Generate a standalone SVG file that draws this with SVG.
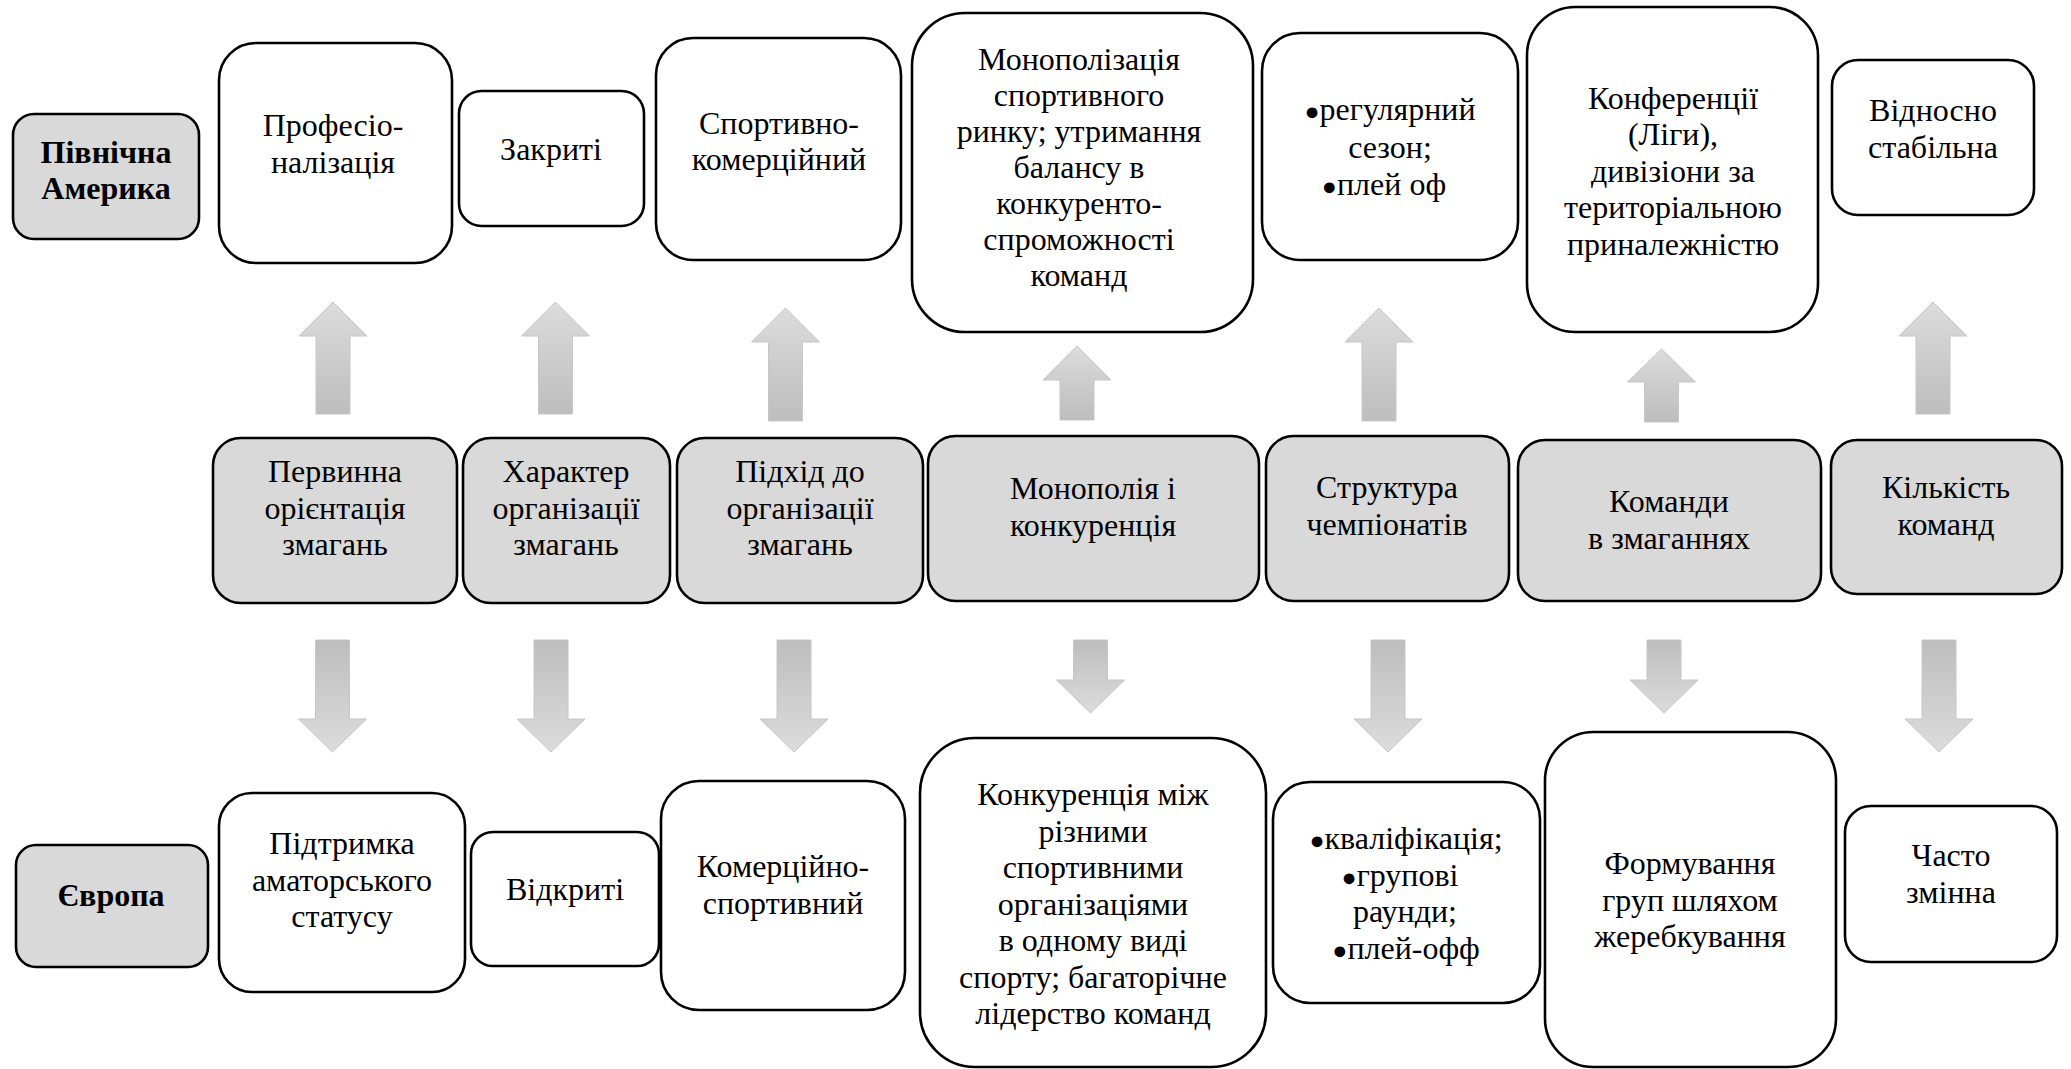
<svg xmlns="http://www.w3.org/2000/svg" width="2071" height="1069" viewBox="0 0 2071 1069">
<defs>
<linearGradient id="gUp" x1="0" y1="0" x2="0" y2="1"><stop offset="0" stop-color="#dcdcdc"/><stop offset="1" stop-color="#bdbdbd"/></linearGradient>
<linearGradient id="gDown" x1="0" y1="0" x2="0" y2="1"><stop offset="0" stop-color="#bdbdbd"/><stop offset="1" stop-color="#dcdcdc"/></linearGradient>
</defs>
<style>
.box{fill:#ffffff;stroke:#000000;stroke-width:2.6}
.gray{fill:#d9d9d9;stroke:#000000;stroke-width:2.6}
text{font-family:'Liberation Serif','Times New Roman',serif;font-size:32px;fill:#000000;text-anchor:middle}
.b{font-weight:bold}
.bul{font-size:25px}
.up{fill:url(#gUp);stroke:#c6c6c6;stroke-width:1}
.down{fill:url(#gDown);stroke:#c6c6c6;stroke-width:1}
</style>
<rect width="2071" height="1069" fill="#ffffff"/>

<g id="connectors">
<path class="up" d="M333,302 L367,336 L350,336 L350,414 L316,414 L316,336 L299,336 Z"/>
<path class="up" d="M555.5,302 L589.5,336 L572.5,336 L572.5,414 L538.5,414 L538.5,336 L521.5,336 Z"/>
<path class="up" d="M785.5,308 L819.5,342 L802.5,342 L802.5,421 L768.5,421 L768.5,342 L751.5,342 Z"/>
<path class="up" d="M1077,346 L1111,380 L1094,380 L1094,420 L1060,420 L1060,380 L1043,380 Z"/>
<path class="up" d="M1379,308 L1413,342 L1396,342 L1396,421 L1362,421 L1362,342 L1345,342 Z"/>
<path class="up" d="M1661.5,349 L1695.5,382 L1678.5,382 L1678.5,422 L1644.5,422 L1644.5,382 L1627.5,382 Z"/>
<path class="up" d="M1933,302 L1967,336 L1950,336 L1950,414 L1916,414 L1916,336 L1899,336 Z"/>
<path class="down" d="M315.5,640 L349.5,640 L349.5,719 L366.5,719 L332.5,752 L298.5,719 L315.5,719 Z"/>
<path class="down" d="M534,640 L568,640 L568,719 L585,719 L551,752 L517,719 L534,719 Z"/>
<path class="down" d="M777,640 L811,640 L811,719 L828,719 L794,752 L760,719 L777,719 Z"/>
<path class="down" d="M1073.5,640 L1107.5,640 L1107.5,680 L1124.5,680 L1090.5,713 L1056.5,680 L1073.5,680 Z"/>
<path class="down" d="M1371,640 L1405,640 L1405,719 L1422,719 L1388,752 L1354,719 L1371,719 Z"/>
<path class="down" d="M1647,640 L1681,640 L1681,680 L1698,680 L1664,713 L1630,680 L1647,680 Z"/>
<path class="down" d="M1922,640 L1956,640 L1956,719 L1973,719 L1939,752 L1905,719 L1922,719 Z"/>
</g>

<g id="na-label">
<rect class="gray" x="13" y="114" width="186" height="125" rx="21"/>
<text class="b" x="106" y="163">Північна</text>
<text class="b" x="106" y="199">Америка</text>
</g>
<g id="na-1">
<rect class="box" x="219" y="43" width="233" height="220" rx="37"/>
<text x="333" y="136">Професіо-</text>
<text x="333" y="172.5">налізація</text>
</g>
<g id="na-2">
<rect class="box" x="459" y="91" width="185" height="135" rx="22.5"/>
<text x="551" y="160">Закриті</text>
</g>
<g id="na-3">
<rect class="box" x="656" y="38" width="245" height="222" rx="37"/>
<text x="779" y="133.5">Спортивно-</text>
<text x="779" y="170">комерційний</text>
</g>
<g id="na-4">
<rect class="box" x="912" y="13" width="341" height="319" rx="53"/>
<text x="1079" y="70">Монополізація</text>
<text x="1079" y="106">спортивного</text>
<text x="1079" y="142">ринку; утримання</text>
<text x="1079" y="178">балансу в</text>
<text x="1079" y="214">конкуренто-</text>
<text x="1079" y="250">спроможності</text>
<text x="1079" y="286">команд</text>
</g>
<g id="na-5">
<rect class="box" x="1262" y="33" width="256" height="227" rx="38"/>
<text x="1390" y="120"><tspan class="bul">●</tspan><tspan>регулярний</tspan></text>
<text x="1390" y="157.5">сезон;</text>
<text x="1384" y="195"><tspan class="bul">●</tspan><tspan>плей оф</tspan></text>
</g>
<g id="na-6">
<rect class="box" x="1527" y="7" width="291" height="325" rx="48.5"/>
<text x="1673" y="109">Конференції</text>
<text x="1673" y="145">(Ліги),</text>
<text x="1673" y="181.5">дивізіони за</text>
<text x="1673" y="218">територіальною</text>
<text x="1673" y="254.5">приналежністю</text>
</g>
<g id="na-7">
<rect class="box" x="1832" y="60" width="202" height="155" rx="26"/>
<text x="1933" y="121">Відносно</text>
<text x="1933" y="157.5">стабільна</text>
</g>

<g id="c-1">
<rect class="gray" x="213" y="438" width="244" height="165" rx="27.5"/>
<text x="335" y="482">Первинна</text>
<text x="335" y="518.5">орієнтація</text>
<text x="335" y="555">змагань</text>
</g>
<g id="c-2">
<rect class="gray" x="463" y="438" width="207" height="165" rx="27.5"/>
<text x="566" y="482">Характер</text>
<text x="566" y="518.5">організації</text>
<text x="566" y="555">змагань</text>
</g>
<g id="c-3">
<rect class="gray" x="677" y="438" width="246" height="165" rx="27.5"/>
<text x="800" y="482">Підхід до</text>
<text x="800" y="518.5">організації</text>
<text x="800" y="555">змагань</text>
</g>
<g id="c-4">
<rect class="gray" x="928" y="436" width="331" height="165" rx="27.5"/>
<text x="1093" y="499">Монополія і</text>
<text x="1093" y="535.5">конкуренція</text>
</g>
<g id="c-5">
<rect class="gray" x="1266" y="436" width="243" height="165" rx="27.5"/>
<text x="1387" y="498">Структура</text>
<text x="1387" y="534.5">чемпіонатів</text>
</g>
<g id="c-6">
<rect class="gray" x="1518" y="440" width="303" height="161" rx="27"/>
<text x="1669" y="512">Команди</text>
<text x="1669" y="548.5">в змаганнях</text>
</g>
<g id="c-7">
<rect class="gray" x="1831" y="440" width="231" height="154" rx="26"/>
<text x="1946" y="498">Кількість</text>
<text x="1946" y="534.5">команд</text>
</g>

<g id="eu-label">
<rect class="gray" x="16" y="845" width="192" height="122" rx="20"/>
<text class="b" x="111" y="906">Європа</text>
</g>
<g id="eu-1">
<rect class="box" x="219" y="793" width="246" height="199" rx="33"/>
<text x="342" y="854">Підтримка</text>
<text x="342" y="890.5">аматорського</text>
<text x="342" y="927">статусу</text>
</g>
<g id="eu-2">
<rect class="box" x="471" y="832" width="188" height="134" rx="22"/>
<text x="565" y="900">Відкриті</text>
</g>
<g id="eu-3">
<rect class="box" x="661" y="781" width="244" height="229" rx="38"/>
<text x="783" y="877">Комерційно-</text>
<text x="783" y="914">спортивний</text>
</g>
<g id="eu-4">
<rect class="box" x="920" y="738" width="346" height="329" rx="55"/>
<text x="1093" y="805">Конкуренція між</text>
<text x="1093" y="841.5">різними</text>
<text x="1093" y="878">спортивними</text>
<text x="1093" y="914.5">організаціями</text>
<text x="1093" y="951">в одному виді</text>
<text x="1093" y="987.5">спорту; багаторічне</text>
<text x="1093" y="1024">лідерство команд</text>
</g>
<g id="eu-5">
<rect class="box" x="1273" y="782" width="267" height="221" rx="37"/>
<text x="1406" y="849"><tspan class="bul">●</tspan><tspan>кваліфікація;</tspan></text>
<text x="1400" y="885.5"><tspan class="bul">●</tspan><tspan>групові</tspan></text>
<text x="1405" y="922">раунди;</text>
<text x="1406" y="958.5"><tspan class="bul">●</tspan><tspan>плей-офф</tspan></text>
</g>
<g id="eu-6">
<rect class="box" x="1545" y="732" width="291" height="335" rx="48.5"/>
<text x="1690" y="874">Формування</text>
<text x="1690" y="910.5">груп шляхом</text>
<text x="1690" y="947">жеребкування</text>
</g>
<g id="eu-7">
<rect class="box" x="1845" y="806" width="212" height="156" rx="26"/>
<text x="1951" y="866">Часто</text>
<text x="1951" y="902.5">змінна</text>
</g>
</svg>
